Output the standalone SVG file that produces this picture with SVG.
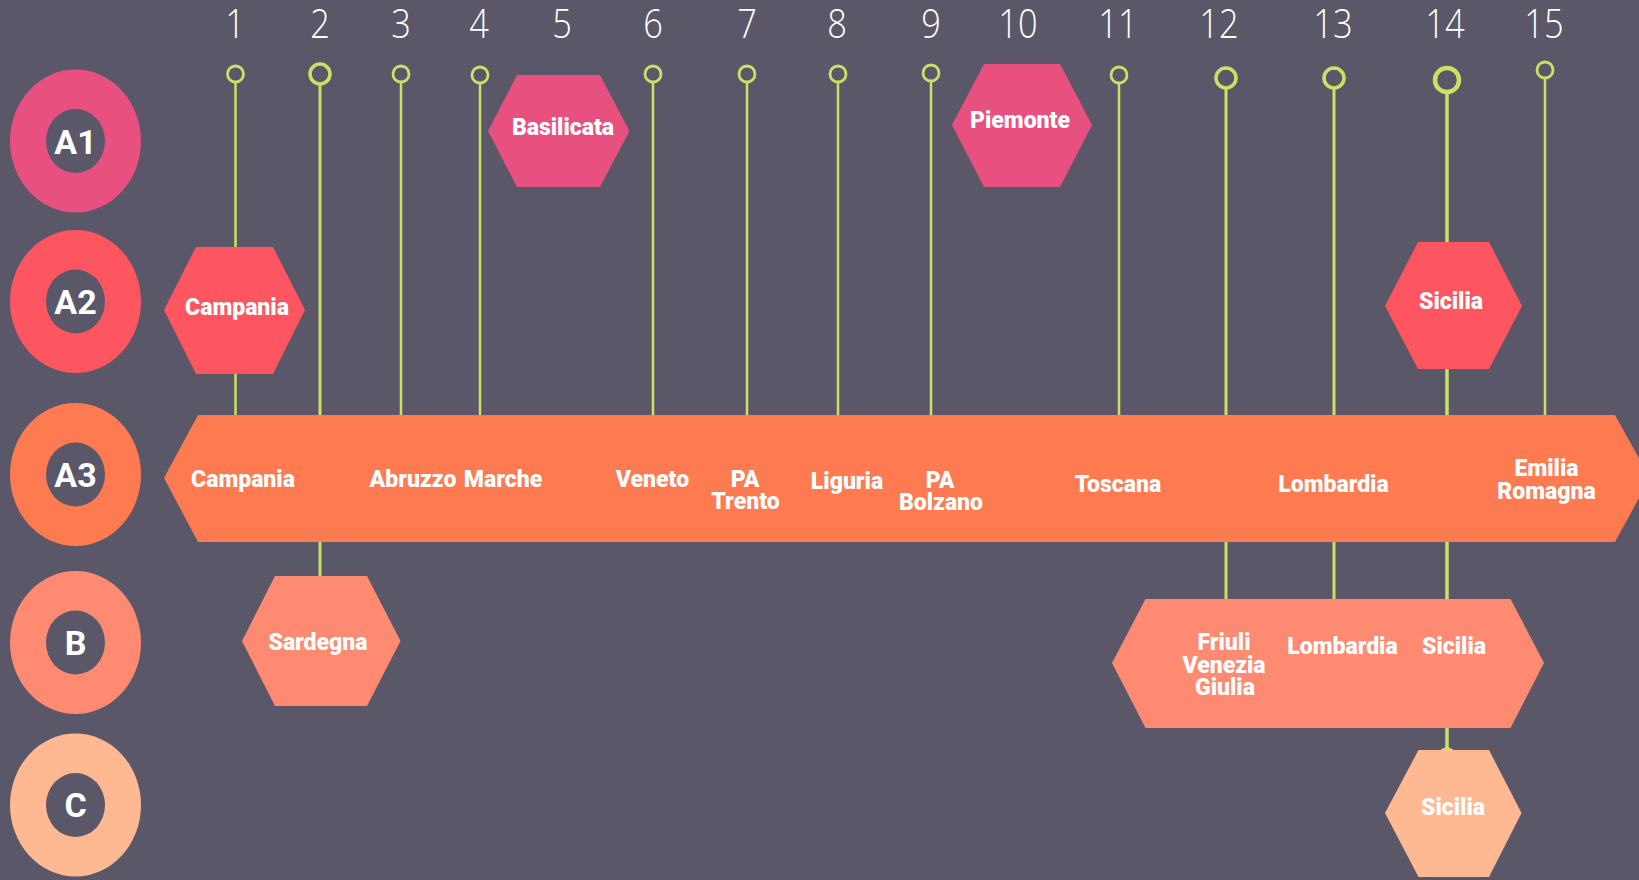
<svg xmlns="http://www.w3.org/2000/svg" width="1639" height="880" viewBox="0 0 1639 880">
<style>
.bg{fill:#5a5769}
.num{font-family:"Open Sans","Liberation Sans",sans-serif;font-weight:300;font-size:40px;fill:#ffffff;text-anchor:middle}
.lbl{font-family:Roboto,"Liberation Sans",sans-serif;font-weight:900;font-size:23px;fill:#ffffff;text-anchor:middle}
.row{font-family:Roboto,"Liberation Sans",sans-serif;font-weight:700;font-size:34px;fill:#ffffff;text-anchor:middle}
.hole{fill:#5a5769}
.ln{stroke:#c9e265;stroke-width:2.5;fill:none}
.pin{stroke:#c9e265;stroke-width:2.8;fill:none}
.a1{fill:#e8507f}.a2{fill:#fe5660}.a3{fill:#fe7a51}.b{fill:#fe8a72}.c{fill:#feb892}
</style>
<rect class="bg" x="0" y="0" width="1639" height="880"/>

<g id="numbers">
<text class="num" transform="translate(235,38) scale(0.86,1)">1</text>
<text class="num" transform="translate(320,38) scale(0.86,1)">2</text>
<text class="num" transform="translate(401,38) scale(0.86,1)">3</text>
<text class="num" transform="translate(479,38) scale(0.86,1)">4</text>
<text class="num" transform="translate(562,38) scale(0.86,1)">5</text>
<text class="num" transform="translate(653,38) scale(0.86,1)">6</text>
<text class="num" transform="translate(747,38) scale(0.86,1)">7</text>
<text class="num" transform="translate(837,38) scale(0.86,1)">8</text>
<text class="num" transform="translate(931,38) scale(0.86,1)">9</text>
<text class="num" transform="translate(1018,38) scale(0.86,1)">10</text>
<text class="num" transform="translate(1118,38) scale(0.86,1)">11</text>
<text class="num" transform="translate(1219,38) scale(0.86,1)">12</text>
<text class="num" transform="translate(1333,38) scale(0.86,1)">13</text>
<text class="num" transform="translate(1445,38) scale(0.86,1)">14</text>
<text class="num" transform="translate(1544,38) scale(0.86,1)">15</text>
</g>

<g id="connectors">
<line class="ln" x1="235.5" y1="82" x2="235.5" y2="416"/>
<line class="ln" x1="320" y1="84" x2="320" y2="578" style="stroke-width:3"/>
<line class="ln" x1="401" y1="82" x2="401" y2="416"/>
<line class="ln" x1="480" y1="83" x2="480" y2="416"/>
<line class="ln" x1="653" y1="82" x2="653" y2="416"/>
<line class="ln" x1="747" y1="82" x2="747" y2="416"/>
<line class="ln" x1="838" y1="82" x2="838" y2="416"/>
<line class="ln" x1="931" y1="81" x2="931" y2="416"/>
<line class="ln" x1="1119" y1="83" x2="1119" y2="416"/>
<line class="ln" x1="1226" y1="88" x2="1226" y2="600" style="stroke-width:3"/>
<line class="ln" x1="1334" y1="88" x2="1334" y2="600" style="stroke-width:3"/>
<line class="ln" x1="1447" y1="92" x2="1447" y2="752" style="stroke-width:3.5"/>
<line class="ln" x1="1545" y1="78" x2="1545" y2="416"/>
<circle class="pin" cx="235.5" cy="74" r="8"/>
<circle class="pin" cx="320" cy="74" r="10" style="stroke-width:3.5"/>
<circle class="pin" cx="401" cy="74" r="8"/>
<circle class="pin" cx="480" cy="75" r="8"/>
<circle class="pin" cx="653" cy="74" r="8"/>
<circle class="pin" cx="747" cy="74" r="8"/>
<circle class="pin" cx="838" cy="74" r="8"/>
<circle class="pin" cx="931" cy="73" r="8"/>
<circle class="pin" cx="1119" cy="75" r="8"/>
<circle class="pin" cx="1226" cy="78" r="10" style="stroke-width:3.5"/>
<circle class="pin" cx="1334" cy="78" r="10" style="stroke-width:3.5"/>
<circle class="pin" cx="1447" cy="80" r="12" style="stroke-width:4.5"/>
<circle class="pin" cx="1545" cy="70" r="8"/>
<circle class="pin" cx="1447" cy="756" r="7" style="stroke-width:3.5"/>
</g>

<g id="row-A1">
<ellipse class="a1" cx="75.5" cy="141" rx="65.5" ry="71.5"/>
<ellipse class="hole" cx="75.5" cy="141" rx="29.5" ry="32"/>
<text class="row" x="75.5" y="154">A1</text>
</g>
<g id="row-A2">
<ellipse class="a2" cx="75.5" cy="301.5" rx="65.5" ry="71.5"/>
<ellipse class="hole" cx="75.5" cy="301.5" rx="29.5" ry="32"/>
<text class="row" x="75.5" y="314">A2</text>
</g>
<g id="row-A3">
<ellipse class="a3" cx="75.5" cy="474.5" rx="65.5" ry="71.5"/>
<ellipse class="hole" cx="75.5" cy="474.5" rx="29.5" ry="32"/>
<text class="row" x="75.5" y="487">A3</text>
</g>
<g id="row-B">
<ellipse class="b" cx="75.5" cy="642.5" rx="65.5" ry="71.5"/>
<ellipse class="hole" cx="75.5" cy="642.5" rx="29.5" ry="32"/>
<text class="row" x="75.5" y="655">B</text>
</g>
<g id="row-C">
<ellipse class="c" cx="75.5" cy="805" rx="65.5" ry="71.5"/>
<ellipse class="hole" cx="75.5" cy="805" rx="29.5" ry="32"/>
<text class="row" x="75.5" y="817">C</text>
</g>

<g id="A1-basilicata">
<polygon class="a1" points="488,131 517,75 600,75 629.5,131 600,187 517,187"/>
<text class="lbl" x="563" y="135">Basilicata</text>
</g>
<g id="A1-piemonte">
<polygon class="a1" points="952,125 984,64 1060,64 1092,125 1060,187 984,187"/>
<text class="lbl" x="1020" y="128">Piemonte</text>
</g>
<g id="A2-campania">
<polygon class="a2" points="164,310 196,247 273,247 305,310 273,374 196,374"/>
<text class="lbl" x="237" y="315">Campania</text>
</g>
<g id="A2-sicilia">
<polygon class="a2" points="1385,306 1418,242 1489,242 1522,306 1489,369 1418,369"/>
<text class="lbl" x="1451" y="309">Sicilia</text>
</g>

<g id="A3-bar">
<polygon class="a3" points="164,478 198,415 1615,415 1650,478 1615,542 198,542"/>
<text class="lbl" x="243" y="487">Campania</text>
<text class="lbl" x="413" y="487">Abruzzo</text>
<text class="lbl" x="503" y="487">Marche</text>
<text class="lbl" x="652.5" y="487">Veneto</text>
<text class="lbl" x="745" y="487">PA</text>
<text class="lbl" x="745.5" y="509">Trento</text>
<text class="lbl" x="847" y="489">Liguria</text>
<text class="lbl" x="940" y="488">PA</text>
<text class="lbl" x="941" y="510">Bolzano</text>
<text class="lbl" x="1118" y="492">Toscana</text>
<text class="lbl" x="1333.5" y="492">Lombardia</text>
<text class="lbl" x="1546.5" y="476">Emilia</text>
<text class="lbl" x="1546.5" y="499">Romagna</text>
</g>

<g id="B-sardegna">
<polygon class="b" points="242,641 275,576 367,576 400.5,641 367,706 275,706"/>
<text class="lbl" x="318" y="650">Sardegna</text>
</g>
<g id="B-bar">
<polygon class="b" points="1112,663 1145.5,599 1510.5,599 1544,663 1510.5,728 1145.5,728"/>
<text class="lbl" x="1224" y="650">Friuli</text>
<text class="lbl" x="1224" y="673">Venezia</text>
<text class="lbl" x="1225" y="695">Giulia</text>
<text class="lbl" x="1342.5" y="654">Lombardia</text>
<text class="lbl" x="1454" y="654">Sicilia</text>
</g>

<g id="C-sicilia">
<polygon class="c" points="1385,813 1418.5,750 1489,750 1521.5,813 1489,877 1418.5,877"/>
<text class="lbl" x="1453" y="815">Sicilia</text>
</g>
</svg>
